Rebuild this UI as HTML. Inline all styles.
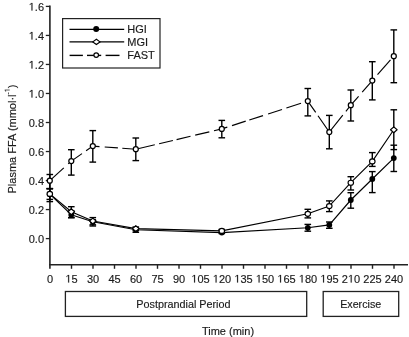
<!DOCTYPE html><html><head><meta charset="utf-8"><style>html,body{margin:0;padding:0;background:#fff;}svg{display:block}text{font-family:"Liberation Sans",sans-serif;fill:#1a1a1a;stroke:#1a1a1a;stroke-width:0.15px}.hid{fill:none;stroke:none}.g1{fill:#1a1a1a;stroke:#1a1a1a;stroke-width:28px}svg{will-change:transform}</style></head><body>
<svg width="409" height="337" viewBox="0 0 409 337">
<rect width="409" height="337" fill="#fff"/>
<g stroke="#222" stroke-width="1.6" fill="none">
<line x1="49.9" y1="5.6" x2="49.9" y2="268.8"/>
<line x1="49.1" y1="264.8" x2="408" y2="264.8"/>
</g>
<g stroke="#222" stroke-width="1.3">
<line x1="45.8" y1="238.60" x2="50" y2="238.60"/>
<line x1="45.8" y1="209.57" x2="50" y2="209.57"/>
<line x1="45.8" y1="180.55" x2="50" y2="180.55"/>
<line x1="45.8" y1="151.53" x2="50" y2="151.53"/>
<line x1="45.8" y1="122.50" x2="50" y2="122.50"/>
<line x1="45.8" y1="93.47" x2="50" y2="93.47"/>
<line x1="45.8" y1="64.45" x2="50" y2="64.45"/>
<line x1="45.8" y1="35.43" x2="50" y2="35.43"/>
<line x1="45.8" y1="6.40" x2="50" y2="6.40"/>
</g>
<g stroke="#222" stroke-width="1.4">
<line x1="71.50" y1="264.8" x2="71.50" y2="268.8"/>
<line x1="93.00" y1="264.8" x2="93.00" y2="268.8"/>
<line x1="114.50" y1="264.8" x2="114.50" y2="268.8"/>
<line x1="136.00" y1="264.8" x2="136.00" y2="268.8"/>
<line x1="157.50" y1="264.8" x2="157.50" y2="268.8"/>
<line x1="179.00" y1="264.8" x2="179.00" y2="268.8"/>
<line x1="200.50" y1="264.8" x2="200.50" y2="268.8"/>
<line x1="222.00" y1="264.8" x2="222.00" y2="268.8"/>
<line x1="243.50" y1="264.8" x2="243.50" y2="268.8"/>
<line x1="265.00" y1="264.8" x2="265.00" y2="268.8"/>
<line x1="286.50" y1="264.8" x2="286.50" y2="268.8"/>
<line x1="308.00" y1="264.8" x2="308.00" y2="268.8"/>
<line x1="329.50" y1="264.8" x2="329.50" y2="268.8"/>
<line x1="351.00" y1="264.8" x2="351.00" y2="268.8"/>
<line x1="372.50" y1="264.8" x2="372.50" y2="268.8"/>
<line x1="394.00" y1="264.8" x2="394.00" y2="268.8"/>
</g>
<text x="28.708" y="242.700" font-size="11">0.0</text>
<text x="28.708" y="213.675" font-size="11">0.2</text>
<text x="28.708" y="184.650" font-size="11">0.4</text>
<text x="28.708" y="155.625" font-size="11">0.6</text>
<text x="28.708" y="126.600" font-size="11">0.8</text>
<text x="28.708" y="97.575" font-size="11"><tspan class="hid">1</tspan>.0</text><path d="M515 0V1237L197 1010V1180L530 1409H696V0Z" transform="translate(28.708,97.575) scale(0.005371,-0.005371)" class="g1"/>
<text x="28.708" y="68.550" font-size="11"><tspan class="hid">1</tspan>.2</text><path d="M515 0V1237L197 1010V1180L530 1409H696V0Z" transform="translate(28.708,68.550) scale(0.005371,-0.005371)" class="g1"/>
<text x="28.708" y="39.525" font-size="11"><tspan class="hid">1</tspan>.4</text><path d="M515 0V1237L197 1010V1180L530 1409H696V0Z" transform="translate(28.708,39.525) scale(0.005371,-0.005371)" class="g1"/>
<text x="28.708" y="10.500" font-size="11"><tspan class="hid">1</tspan>.6</text><path d="M515 0V1237L197 1010V1180L530 1409H696V0Z" transform="translate(28.708,10.500) scale(0.005371,-0.005371)" class="g1"/>
<text x="46.941" y="282.500" font-size="11">0</text>
<text x="65.382" y="282.500" font-size="11"><tspan class="hid">1</tspan>5</text><path d="M515 0V1237L197 1010V1180L530 1409H696V0Z" transform="translate(65.382,282.500) scale(0.005371,-0.005371)" class="g1"/>
<text x="86.882" y="282.500" font-size="11">30</text>
<text x="108.382" y="282.500" font-size="11">45</text>
<text x="129.882" y="282.500" font-size="11">60</text>
<text x="151.382" y="282.500" font-size="11">75</text>
<text x="172.882" y="282.500" font-size="11">90</text>
<text x="191.323" y="282.500" font-size="11"><tspan class="hid">1</tspan>05</text><path d="M515 0V1237L197 1010V1180L530 1409H696V0Z" transform="translate(191.323,282.500) scale(0.005371,-0.005371)" class="g1"/>
<text x="212.823" y="282.500" font-size="11"><tspan class="hid">1</tspan>20</text><path d="M515 0V1237L197 1010V1180L530 1409H696V0Z" transform="translate(212.823,282.500) scale(0.005371,-0.005371)" class="g1"/>
<text x="234.323" y="282.500" font-size="11"><tspan class="hid">1</tspan>35</text><path d="M515 0V1237L197 1010V1180L530 1409H696V0Z" transform="translate(234.323,282.500) scale(0.005371,-0.005371)" class="g1"/>
<text x="255.823" y="282.500" font-size="11"><tspan class="hid">1</tspan>50</text><path d="M515 0V1237L197 1010V1180L530 1409H696V0Z" transform="translate(255.823,282.500) scale(0.005371,-0.005371)" class="g1"/>
<text x="277.323" y="282.500" font-size="11"><tspan class="hid">1</tspan>65</text><path d="M515 0V1237L197 1010V1180L530 1409H696V0Z" transform="translate(277.323,282.500) scale(0.005371,-0.005371)" class="g1"/>
<text x="298.823" y="282.500" font-size="11"><tspan class="hid">1</tspan>80</text><path d="M515 0V1237L197 1010V1180L530 1409H696V0Z" transform="translate(298.823,282.500) scale(0.005371,-0.005371)" class="g1"/>
<text x="320.323" y="282.500" font-size="11"><tspan class="hid">1</tspan>95</text><path d="M515 0V1237L197 1010V1180L530 1409H696V0Z" transform="translate(320.323,282.500) scale(0.005371,-0.005371)" class="g1"/>
<text x="341.823" y="282.500" font-size="11">2<tspan class="hid">1</tspan>0</text><path d="M515 0V1237L197 1010V1180L530 1409H696V0Z" transform="translate(347.941,282.500) scale(0.005371,-0.005371)" class="g1"/>
<text x="363.323" y="282.500" font-size="11">225</text>
<text x="384.823" y="282.500" font-size="11">240</text>
<g stroke="#222" stroke-width="1.3" fill="none">
<rect x="65.4" y="291.5" width="241.3" height="24.9"/>
<rect x="323.2" y="291.5" width="75.5" height="24.9"/>
</g>
<text x="183.4" y="307.6" font-size="10.8" text-anchor="middle">Postprandial Period</text>
<text x="360.7" y="307.6" font-size="10.7" text-anchor="middle">Exercise</text>
<text x="228.0" y="334.8" font-size="11" text-anchor="middle">Time (min)</text>
<g transform="translate(15.6,139) rotate(-90)"><text x="0" y="0" font-size="11" text-anchor="middle">Plasma FFA (mmol·l<tspan font-size="7" dy="-6">-<tspan class="hid">1</tspan></tspan><tspan dy="6">)</tspan></text>
<path d="M515 0V1237L197 1010V1180L530 1409H696V0Z" transform="translate(46.883,-6) scale(0.003418,-0.003418)" class="g1" style="stroke-width:43.9px"/></g>
<rect x="62.6" y="18.6" width="97.4" height="49.4" fill="none" stroke="#222" stroke-width="1.2"/>
<g stroke="#000" stroke-width="1.4">
<line x1="69.5" y1="29.4" x2="124.2" y2="29.4"/>
<line x1="69.5" y1="41.9" x2="124.2" y2="41.9"/>
<line x1="69.6" y1="55.4" x2="82.9" y2="55.4"/><line x1="87.0" y1="55.4" x2="101.2" y2="55.4"/><line x1="105.6" y1="55.4" x2="119.5" y2="55.4"/>
</g>
<circle cx="96.2" cy="29.0" r="3" fill="#000"/>
<path d="M92.8 41.9 L96.4 39.3 L100.0 41.9 L96.4 44.5 Z" fill="#fff" stroke="#000" stroke-width="1.15"/>
<circle cx="96.2" cy="55.1" r="2.3" fill="#fff" stroke="#000" stroke-width="1.15"/>
<g font-size="11">
<text x="127.3" y="33.1">HGI</text>
<text x="127.3" y="46.2">MGI</text>
<text x="127.3" y="58.7">FAST</text>
</g>
<polyline points="49.80,194.20 71.30,214.70 92.80,221.80 135.80,229.80 221.80,232.60 307.80,227.80 329.30,224.90 350.80,200.00 372.30,179.00 393.80,158.10" fill="none" stroke="#000" stroke-width="1.15"/>
<polyline points="49.80,193.90 71.30,211.70 92.80,221.00 135.80,228.60 221.80,230.90 307.80,213.80 329.30,206.10 350.80,182.70 372.30,161.40 393.80,129.80" fill="none" stroke="#000" stroke-width="1.15"/>
<polyline points="49.80,180.70 63.80,167.94" fill="none" stroke="#000" stroke-width="1.15"/>
<polyline points="68.20,163.93 71.30,161.10 82.00,153.63" fill="none" stroke="#000" stroke-width="1.15"/>
<polyline points="86.10,150.77 92.80,146.10 99.50,146.58" fill="none" stroke="#000" stroke-width="1.15"/>
<polyline points="104.70,146.96 117.90,147.91" fill="none" stroke="#000" stroke-width="1.15"/>
<polyline points="122.30,148.23 135.80,149.20 154.80,144.72" fill="none" stroke="#000" stroke-width="1.15"/>
<polyline points="159.10,143.70 172.90,140.44" fill="none" stroke="#000" stroke-width="1.15"/>
<polyline points="176.60,139.57 190.50,136.29" fill="none" stroke="#000" stroke-width="1.15"/>
<polyline points="195.20,135.18 209.30,131.85" fill="none" stroke="#000" stroke-width="1.15"/>
<polyline points="214.00,130.74 221.80,128.90 227.30,127.12" fill="none" stroke="#000" stroke-width="1.15"/>
<polyline points="232.00,125.60 245.70,121.17" fill="none" stroke="#000" stroke-width="1.15"/>
<polyline points="249.30,120.01 263.00,115.58" fill="none" stroke="#000" stroke-width="1.15"/>
<polyline points="268.10,113.93 282.00,109.44" fill="none" stroke="#000" stroke-width="1.15"/>
<polyline points="286.40,108.02 301.00,103.30" fill="none" stroke="#000" stroke-width="1.15"/>
<polyline points="305.20,101.94 307.80,101.10 315.70,112.45" fill="none" stroke="#000" stroke-width="1.15"/>
<polyline points="318.00,115.76 329.30,132.00 342.80,115.17" fill="none" stroke="#000" stroke-width="1.15"/>
<polyline points="345.90,111.31 350.80,105.20 358.60,96.28" fill="none" stroke="#000" stroke-width="1.15"/>
<polyline points="362.20,92.16 372.30,80.60 374.00,78.67" fill="none" stroke="#000" stroke-width="1.15"/>
<polyline points="377.50,74.70 390.50,59.95" fill="none" stroke="#000" stroke-width="1.15"/>
<g stroke="#000" stroke-width="1.4">
<line x1="49.80" y1="174.50" x2="49.80" y2="188.80"/><line x1="46.50" y1="174.50" x2="53.10" y2="174.50"/><line x1="46.50" y1="188.80" x2="53.10" y2="188.80"/>
<line x1="71.30" y1="149.70" x2="71.30" y2="175.10"/><line x1="68.00" y1="149.70" x2="74.60" y2="149.70"/><line x1="68.00" y1="175.10" x2="74.60" y2="175.10"/>
<line x1="92.80" y1="130.60" x2="92.80" y2="162.10"/><line x1="89.50" y1="130.60" x2="96.10" y2="130.60"/><line x1="89.50" y1="162.10" x2="96.10" y2="162.10"/>
<line x1="135.80" y1="138.00" x2="135.80" y2="160.60"/><line x1="132.50" y1="138.00" x2="139.10" y2="138.00"/><line x1="132.50" y1="160.60" x2="139.10" y2="160.60"/>
<line x1="221.80" y1="120.40" x2="221.80" y2="137.80"/><line x1="218.50" y1="120.40" x2="225.10" y2="120.40"/><line x1="218.50" y1="137.80" x2="225.10" y2="137.80"/>
<line x1="307.80" y1="88.50" x2="307.80" y2="115.90"/><line x1="304.50" y1="88.50" x2="311.10" y2="88.50"/><line x1="304.50" y1="115.90" x2="311.10" y2="115.90"/>
<line x1="329.30" y1="115.40" x2="329.30" y2="148.80"/><line x1="326.00" y1="115.40" x2="332.60" y2="115.40"/><line x1="326.00" y1="148.80" x2="332.60" y2="148.80"/>
<line x1="350.80" y1="90.00" x2="350.80" y2="121.00"/><line x1="347.50" y1="90.00" x2="354.10" y2="90.00"/><line x1="347.50" y1="121.00" x2="354.10" y2="121.00"/>
<line x1="372.30" y1="61.70" x2="372.30" y2="99.90"/><line x1="369.00" y1="61.70" x2="375.60" y2="61.70"/><line x1="369.00" y1="99.90" x2="375.60" y2="99.90"/>
<line x1="393.80" y1="29.90" x2="393.80" y2="82.70"/><line x1="390.50" y1="29.90" x2="397.10" y2="29.90"/><line x1="390.50" y1="82.70" x2="397.10" y2="82.70"/>
<line x1="49.80" y1="188.60" x2="49.80" y2="201.60"/><line x1="46.50" y1="188.60" x2="53.10" y2="188.60"/><line x1="46.50" y1="201.60" x2="53.10" y2="201.60"/>
<line x1="71.30" y1="211.00" x2="71.30" y2="217.70"/><line x1="68.00" y1="211.00" x2="74.60" y2="211.00"/><line x1="68.00" y1="217.70" x2="74.60" y2="217.70"/>
<line x1="92.80" y1="219.80" x2="92.80" y2="224.80"/><line x1="89.50" y1="219.80" x2="96.10" y2="219.80"/><line x1="89.50" y1="224.80" x2="96.10" y2="224.80"/>
<line x1="135.80" y1="228.00" x2="135.80" y2="232.30"/><line x1="132.50" y1="228.00" x2="139.10" y2="228.00"/><line x1="132.50" y1="232.30" x2="139.10" y2="232.30"/>
<line x1="221.80" y1="230.50" x2="221.80" y2="233.50"/><line x1="218.50" y1="230.50" x2="225.10" y2="230.50"/><line x1="218.50" y1="233.50" x2="225.10" y2="233.50"/>
<line x1="307.80" y1="224.40" x2="307.80" y2="231.20"/><line x1="304.50" y1="224.40" x2="311.10" y2="224.40"/><line x1="304.50" y1="231.20" x2="311.10" y2="231.20"/>
<line x1="329.30" y1="222.00" x2="329.30" y2="228.30"/><line x1="326.00" y1="222.00" x2="332.60" y2="222.00"/><line x1="326.00" y1="228.30" x2="332.60" y2="228.30"/>
<line x1="350.80" y1="192.70" x2="350.80" y2="208.20"/><line x1="347.50" y1="192.70" x2="354.10" y2="192.70"/><line x1="347.50" y1="208.20" x2="354.10" y2="208.20"/>
<line x1="372.30" y1="171.60" x2="372.30" y2="192.60"/><line x1="369.00" y1="171.60" x2="375.60" y2="171.60"/><line x1="369.00" y1="192.60" x2="375.60" y2="192.60"/>
<line x1="393.80" y1="145.20" x2="393.80" y2="171.50"/><line x1="390.50" y1="145.20" x2="397.10" y2="145.20"/><line x1="390.50" y1="171.50" x2="397.10" y2="171.50"/>
<line x1="49.80" y1="188.60" x2="49.80" y2="199.40"/><line x1="46.50" y1="188.60" x2="53.10" y2="188.60"/><line x1="46.50" y1="199.40" x2="53.10" y2="199.40"/>
<line x1="71.30" y1="206.70" x2="71.30" y2="217.60"/><line x1="68.00" y1="206.70" x2="74.60" y2="206.70"/><line x1="68.00" y1="217.60" x2="74.60" y2="217.60"/>
<line x1="92.80" y1="217.60" x2="92.80" y2="226.00"/><line x1="89.50" y1="217.60" x2="96.10" y2="217.60"/><line x1="89.50" y1="226.00" x2="96.10" y2="226.00"/>
<line x1="135.80" y1="227.00" x2="135.80" y2="230.50"/><line x1="132.50" y1="227.00" x2="139.10" y2="227.00"/><line x1="132.50" y1="230.50" x2="139.10" y2="230.50"/>
<line x1="221.80" y1="229.50" x2="221.80" y2="232.50"/><line x1="218.50" y1="229.50" x2="225.10" y2="229.50"/><line x1="218.50" y1="232.50" x2="225.10" y2="232.50"/>
<line x1="307.80" y1="209.30" x2="307.80" y2="217.90"/><line x1="304.50" y1="209.30" x2="311.10" y2="209.30"/><line x1="304.50" y1="217.90" x2="311.10" y2="217.90"/>
<line x1="329.30" y1="200.90" x2="329.30" y2="211.60"/><line x1="326.00" y1="200.90" x2="332.60" y2="200.90"/><line x1="326.00" y1="211.60" x2="332.60" y2="211.60"/>
<line x1="350.80" y1="176.70" x2="350.80" y2="190.00"/><line x1="347.50" y1="176.70" x2="354.10" y2="176.70"/><line x1="347.50" y1="190.00" x2="354.10" y2="190.00"/>
<line x1="372.30" y1="152.60" x2="372.30" y2="166.40"/><line x1="369.00" y1="152.60" x2="375.60" y2="152.60"/><line x1="369.00" y1="166.40" x2="375.60" y2="166.40"/>
<line x1="393.80" y1="109.80" x2="393.80" y2="149.60"/><line x1="390.50" y1="109.80" x2="397.10" y2="109.80"/><line x1="390.50" y1="149.60" x2="397.10" y2="149.60"/>
</g>
<circle cx="49.80" cy="194.20" r="2.9" fill="#000"/>
<circle cx="71.30" cy="214.70" r="2.9" fill="#000"/>
<circle cx="92.80" cy="221.80" r="2.9" fill="#000"/>
<circle cx="135.80" cy="229.80" r="2.9" fill="#000"/>
<circle cx="221.80" cy="232.60" r="2.9" fill="#000"/>
<circle cx="307.80" cy="227.80" r="2.9" fill="#000"/>
<circle cx="329.30" cy="224.90" r="2.9" fill="#000"/>
<circle cx="350.80" cy="200.00" r="2.9" fill="#000"/>
<circle cx="372.30" cy="179.00" r="2.9" fill="#000"/>
<circle cx="393.80" cy="158.10" r="2.9" fill="#000"/>
<ellipse cx="49.80" cy="193.90" rx="2.75" ry="2.5" fill="#fff" stroke="#000" stroke-width="1.15"/>
<path d="M68.00 211.70 L71.30 208.80 L74.60 211.70 L71.30 214.60 Z" fill="#fff" stroke="#000" stroke-width="1.15" stroke-linejoin="round"/>
<path d="M89.50 221.00 L92.80 218.10 L96.10 221.00 L92.80 223.90 Z" fill="#fff" stroke="#000" stroke-width="1.15" stroke-linejoin="round"/>
<path d="M132.50 228.60 L135.80 225.70 L139.10 228.60 L135.80 231.50 Z" fill="#fff" stroke="#000" stroke-width="1.15" stroke-linejoin="round"/>
<ellipse cx="221.80" cy="230.90" rx="2.75" ry="2.5" fill="#fff" stroke="#000" stroke-width="1.15"/>
<ellipse cx="307.80" cy="213.80" rx="2.75" ry="2.5" fill="#fff" stroke="#000" stroke-width="1.15"/>
<ellipse cx="329.30" cy="206.10" rx="2.75" ry="2.5" fill="#fff" stroke="#000" stroke-width="1.15"/>
<ellipse cx="350.80" cy="182.70" rx="2.75" ry="2.5" fill="#fff" stroke="#000" stroke-width="1.15"/>
<ellipse cx="372.30" cy="161.40" rx="2.75" ry="2.5" fill="#fff" stroke="#000" stroke-width="1.15"/>
<path d="M390.50 129.80 L393.80 126.90 L397.10 129.80 L393.80 132.70 Z" fill="#fff" stroke="#000" stroke-width="1.15" stroke-linejoin="round"/>
<circle cx="49.80" cy="180.70" r="2.5" fill="#fff" stroke="#000" stroke-width="1.25"/>
<circle cx="71.30" cy="161.10" r="2.5" fill="#fff" stroke="#000" stroke-width="1.25"/>
<circle cx="92.80" cy="146.10" r="2.5" fill="#fff" stroke="#000" stroke-width="1.25"/>
<circle cx="135.80" cy="149.20" r="2.5" fill="#fff" stroke="#000" stroke-width="1.25"/>
<circle cx="221.80" cy="128.90" r="2.5" fill="#fff" stroke="#000" stroke-width="1.25"/>
<circle cx="307.80" cy="101.10" r="2.5" fill="#fff" stroke="#000" stroke-width="1.25"/>
<circle cx="329.30" cy="132.00" r="2.5" fill="#fff" stroke="#000" stroke-width="1.25"/>
<circle cx="350.80" cy="105.20" r="2.5" fill="#fff" stroke="#000" stroke-width="1.25"/>
<circle cx="372.30" cy="80.60" r="2.5" fill="#fff" stroke="#000" stroke-width="1.25"/>
<circle cx="393.80" cy="56.20" r="2.5" fill="#fff" stroke="#000" stroke-width="1.25"/>
</svg></body></html>
